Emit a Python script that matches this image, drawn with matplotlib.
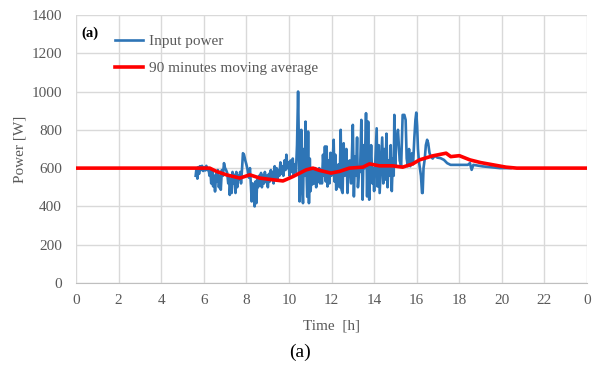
import matplotlib
matplotlib.use("Agg")
import matplotlib.pyplot as plt

plt.rcParams['font.family'] = ['Liberation Serif', 'DejaVu Serif']

# input power (hours, W)
t_in = [5.62, 5.66, 5.70, 5.74, 5.78, 5.82, 5.87, 5.92, 5.97, 6.02, 6.07, 6.12, 6.17,
        6.22, 6.27, 6.31, 6.35, 6.40, 6.44, 6.48, 6.53, 6.58, 6.62, 6.66, 6.71, 6.76,
        6.80, 6.85, 6.90, 6.95, 7.00, 7.05, 7.10, 7.15, 7.19, 7.22, 7.27, 7.31, 7.35,
        7.40, 7.44, 7.49, 7.53, 7.57, 7.62, 7.66, 7.71, 7.75, 7.80, 7.84, 7.89, 7.95,
        8.00, 8.06, 8.12, 8.17, 8.22, 8.25, 8.30, 8.34, 8.39, 8.43, 8.47, 8.51, 8.55,
        8.60, 8.64, 8.69, 8.73, 8.78, 8.83, 8.87, 8.92, 8.96, 9.01, 9.06, 9.10, 9.15,
        9.19, 9.24, 9.28, 9.33, 9.37, 9.42, 9.46, 9.51, 9.55, 9.60, 9.64, 9.69, 9.74,
        9.79, 9.84, 9.88, 9.93, 9.98, 10.03, 10.08, 10.13, 10.18, 10.23, 10.28, 10.33,
        10.38, 10.43, 10.47, 10.50, 10.54, 10.58, 10.62, 10.66, 10.70, 10.74, 10.78,
        10.82, 10.86, 10.90, 10.94, 10.98, 11.02, 11.06, 11.10, 11.14, 11.19, 11.24,
        11.28, 11.33, 11.38, 11.42, 11.46, 11.50, 11.55, 11.60, 11.65, 11.69, 11.73,
        11.77, 11.81, 11.85, 11.90, 11.95, 12.00, 12.04, 12.10, 12.14, 12.18, 12.22,
        12.27, 12.33, 12.38, 12.43, 12.47, 12.52, 12.57, 12.62, 12.66, 12.70, 12.75,
        12.79, 12.85, 12.92, 13.00, 13.05, 13.10, 13.15, 13.20, 13.24, 13.30, 13.34,
        13.40, 13.46, 13.51, 13.56, 13.62, 13.67, 13.72, 13.77, 13.82, 13.86, 13.92,
        13.96, 14.00, 14.06, 14.12, 14.16, 14.22, 14.26, 14.32, 14.38, 14.43, 14.48,
        14.53, 14.58, 14.63, 14.68, 14.73, 14.78, 14.83, 14.88, 14.92, 14.95, 14.99,
        15.04, 15.12, 15.20, 15.27, 15.34, 15.42, 15.48, 15.53, 15.58, 15.64, 15.70,
        15.78, 15.83, 15.89, 15.94, 15.98, 16.02, 16.06, 16.10, 16.15, 16.20, 16.25,
        16.28, 16.32, 16.38, 16.43, 16.49, 16.54, 16.60, 16.66, 16.75, 16.85, 16.97,
        17.12, 17.28, 17.43, 17.59, 18.00, 18.40, 18.50, 18.58, 18.66, 19.10, 19.90,
        20.40]
p_in = [560, 600, 545, 605, 570, 610, 590, 612, 585, 605, 588, 612, 590,
        600, 560, 590, 520, 580, 505, 560, 478, 570, 530, 590, 500, 560,
        487, 590, 560, 626, 600, 590, 575, 520, 560, 460, 540, 470, 580,
        520, 565, 470, 580, 500, 560, 540, 580, 520, 600, 678, 670, 640,
        620, 590, 550, 600, 500, 426, 520, 470, 400, 530, 417, 540, 500,
        560, 510, 575, 500, 560, 520, 580, 530, 560, 500, 570, 530, 590,
        540, 580, 520, 610, 550, 600, 540, 590, 560, 630, 570, 610, 560,
        640, 590, 670, 600, 630, 560, 640, 580, 650, 560, 620, 580,
        720, 1000, 700, 426, 600, 800, 520, 417, 700, 560, 843,
        600, 450, 791, 417, 650, 480, 600, 515, 590, 520, 600,
        500, 590, 530, 600, 520, 590, 520, 670, 560, 713, 530,
        713, 504, 640, 520, 680, 560, 600, 748, 530, 670, 487,
        600, 620, 500, 800, 487, 470, 730, 560, 600, 700, 470,
        600, 640, 520, 826, 452, 660, 560, 760, 500, 600, 580,
        852, 435, 720, 600, 887, 452, 843, 435, 610, 720, 520,
        600, 480, 650, 808, 504, 720, 470, 610, 760, 520, 700,
        540, 780, 500, 640, 560, 720, 480, 650, 560, 878, 610,
        730, 800, 640, 610, 878, 878, 852, 650, 610, 700, 610,
        678, 620, 760, 852, 890, 820, 700, 640, 600, 560, 470,
        470, 600, 650, 720, 748, 730, 680, 660, 650, 665, 655,
        652, 643, 626, 617, 617, 617, 626, 591, 617, 609, 600,
        600]

# 90 minutes moving average
t_avg = [0, 6.0, 6.28, 6.59, 7.06, 7.69, 7.92, 8.16, 8.63, 9.25, 9.72, 10.19, 10.81,
         11.13, 11.44, 11.98, 12.38, 12.84, 13.47, 13.78, 14.25, 14.88, 15.34, 15.81,
         16.13, 16.75, 17.38, 17.60, 18.00, 18.50, 19.00, 19.60, 20.20, 20.70, 24]
p_avg = [600, 600, 600, 583, 565, 548, 556, 565, 548, 539, 533, 556, 591,
         600, 588, 574, 583, 600, 605, 622, 612, 612, 605, 622,
         643, 664, 678, 660, 665, 643, 629, 617, 605, 600, 600]

xticks = list(range(0, 25, 2))
xlabels = [str(h % 24) for h in xticks]
yticks = list(range(0, 1401, 200))

gray = '#595959'
fig = plt.figure(figsize=(5.96, 3.65), dpi=100)
ax = fig.add_axes([0.1275, 0.2247, 0.8575, 0.7343])

ax.plot(t_in, p_in, color='#2E75B6', lw=1.9, label='Input power')
ax.plot(t_avg, p_avg, color='#FF0000', lw=2.6, label='90 minutes moving average')

ax.set_xlim(0, 24)
ax.set_ylim(0, 1400)
ax.set_xticks(xticks)
ax.set_xticklabels(xlabels)
ax.set_yticks(yticks)
ax.grid(True, color='#D9D9D9', lw=1)
ax.set_axisbelow(True)
for s in ['left', 'right', 'top']:
    ax.spines[s].set_visible(False)
ax.spines['bottom'].set_color('#BFBFBF')
ax.tick_params(length=0, labelsize=11, labelcolor=gray, pad=8)
ax.tick_params(axis='y', pad=10)

ax.set_xlabel('Time  [h]', fontsize=11, color=gray, labelpad=9)
ax.set_ylabel('Power [W]', fontsize=11, color=gray, labelpad=4)

leg = ax.legend(loc='upper left', bbox_to_anchor=(0.193, 0.905),
                bbox_transform=fig.transFigure, frameon=False, fontsize=11,
                handlelength=1.8, handletextpad=0.4, labelspacing=0.85,
                borderpad=0, borderaxespad=0)
for txt in leg.get_texts():
    txt.set_color(gray)

fig.text(0.151, 0.91, '(a)', fontsize=10.5, fontweight='bold', ha='center', va='center')
fig.text(0.503, 0.035, '(a)', fontsize=14, ha='center', va='center')

fig.savefig('out.png', dpi=100)
